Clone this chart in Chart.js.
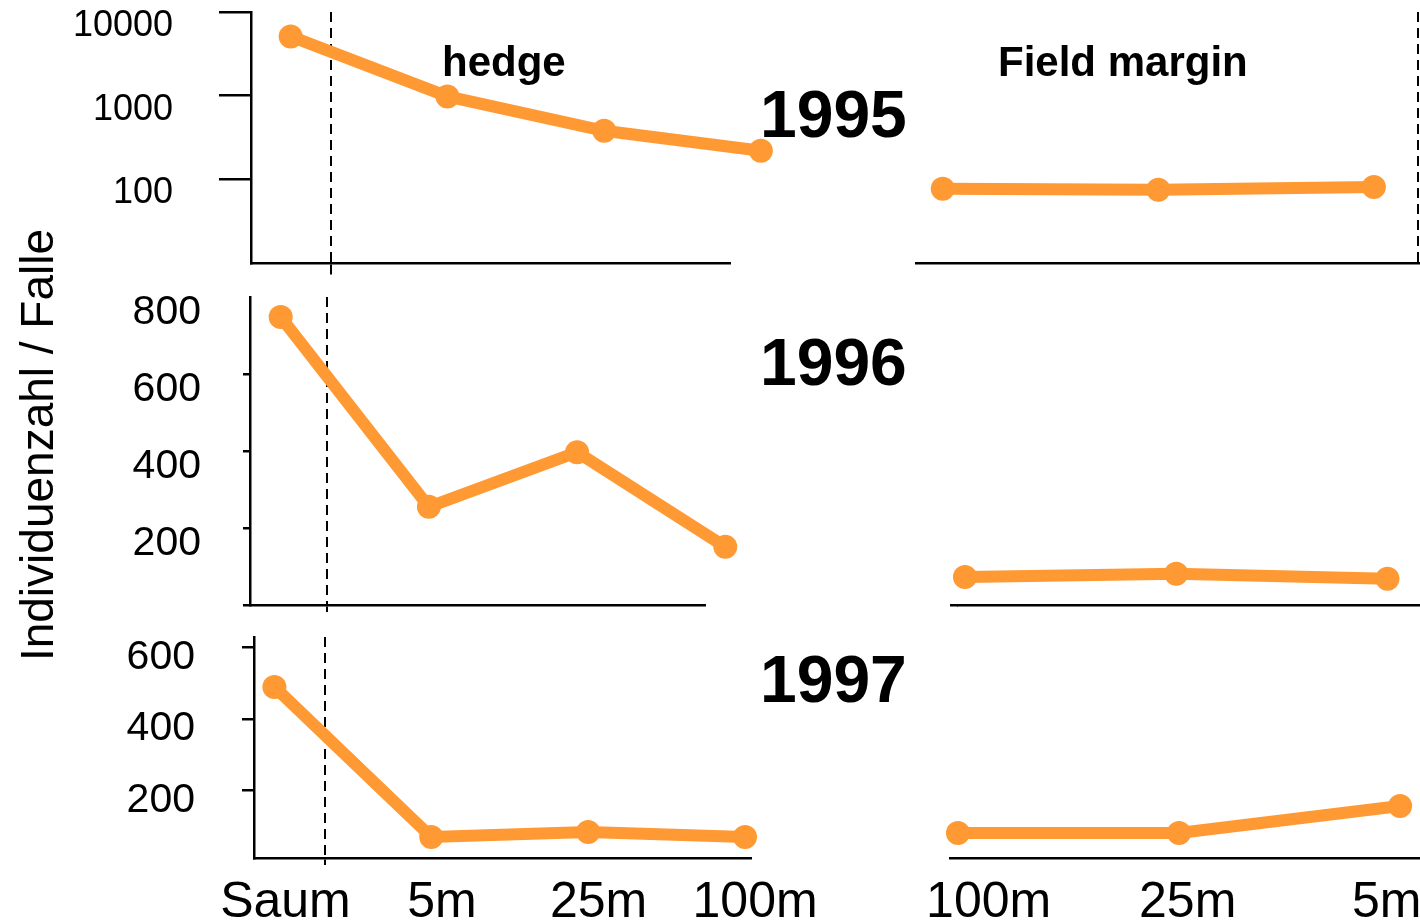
<!DOCTYPE html>
<html>
<head>
<meta charset="utf-8">
<title>Individuenzahl / Falle 1995–1997</title>
<script src="https://cdn.jsdelivr.net/npm/chart.js@4.4.1/dist/chart.umd.min.js"></script>
<style>
  html, body { margin: 0; padding: 0; background: #fff; }
  #stage { position: relative; width: 1420px; height: 924px; overflow: hidden;
           font-family: "Liberation Sans", Arial, sans-serif; color: #000; }
  #stage canvas { position: absolute; left: 0; top: 0; }
  .txt { position: absolute; line-height: 1; white-space: nowrap; }
  .bold { font-weight: bold; }
</style>
</head>
<body>
<div id="stage">
  <canvas id="hedge95" width="1420" height="924"></canvas>
  <canvas id="field95" width="1420" height="924"></canvas>
  <canvas id="hedge96" width="1420" height="924"></canvas>
  <canvas id="field96" width="1420" height="924"></canvas>
  <canvas id="hedge97" width="1420" height="924"></canvas>
  <canvas id="field97" width="1420" height="924"></canvas>

  <div class="txt bold" style="left:442px;top:41px;font-size:42px;">hedge</div>
  <div class="txt bold" style="left:998px;top:41px;font-size:42px;">Field margin</div>
  <div class="txt bold" style="left:760px;top:81px;font-size:66px;">1995</div>
  <div class="txt bold" style="left:760px;top:329px;font-size:66px;">1996</div>
  <div class="txt bold" style="left:760px;top:646px;font-size:66px;">1997</div>
  <div class="txt" style="left:-263px;top:422px;width:600px;height:46px;font-size:46px;text-align:center;transform:rotate(-90deg);">Individuenzahl / Falle</div>
</div>

<script>
// Trap sites: hedge transect (Saum = hedge edge, then distance into the field)
const hedgeSites = ['Saum', '5m', '25m', '100m'];
// Field-margin transect, read from the far field towards the margin
const fieldSites = ['100m', '25m', '5m'];

// Individuals per trap
const hedge1995 = [5100, 980, 380, 220];
const field1995 = [77, 75, 81];
const hedge1996 = [748, 255, 397, 151];
const field1996 = [73, 81, 68];
const hedge1997 = [490, 69, 83, 69];
const field1997 = [80, 80, 156];

// Y tick values per year
const ticks1995 = [100, 1000, 10000];
const ticks1996 = [0, 200, 400, 600, 800];
const ticks1997 = [200, 400, 600];

const ORANGE = '#FF9933';
const FONT = '"Liberation Sans", Arial, sans-serif';
const PAGE_W = 1420, PAGE_H = 924;
const Y_BOX = 200;     // width reserved for left y axes
const X_BOX = 20;      // height of a plain bottom axis
const LABEL_BOX = 66;  // height of the bottom axis carrying site names
const DASH = [10, 6];

const setTicks = vals => scale => { scale.ticks = vals.map(v => ({ value: v })); };
const fixWidth = w => scale => { scale.width = w; scale.paddingTop = 0; scale.paddingBottom = 0; };
const fixHeight = h => scale => { scale.height = h; scale.paddingLeft = 0; scale.paddingRight = 0; };

// The last hedge marker sits past the end of the short x axis line:
// widen the area used for drawing markers while the datasets are drawn.
const overhang = {
  id: 'overhang',
  beforeDatasetsDraw(chart, args, opts) {
    const a = chart.chartArea;
    chart.$plotArea = { left: a.left, right: a.right, top: a.top, bottom: a.bottom, width: a.width, height: a.height };
    a.right += opts.px || 0;
    a.width = a.right - a.left;
  },
  afterDatasetsDraw(chart) {
    if (chart.$plotArea) Object.assign(chart.chartArea, chart.$plotArea);
  }
};

function lineDataset(values) {
  return {
    data: values.map((v, i) => ({ x: i, y: v })),
    borderColor: ORANGE,
    backgroundColor: ORANGE,
    borderWidth: 12,
    pointRadius: 12,
    pointHoverRadius: 12,
    pointBackgroundColor: ORANGE,
    pointBorderWidth: 0,
    tension: 0,
    clip: false
  };
}

// Left value axis with outward tick marks
function valueAxis({ type = 'linear', min, max, ticks, noMark = [], noLabel = [], tickLength, padding, size, offset }) {
  return {
    type, min, max, position: 'left',
    afterBuildTicks: setTicks(ticks),
    afterFit: fixWidth(Y_BOX),
    border: { color: '#000', width: 2.5 },
    grid: {
      drawOnChartArea: false, drawTicks: true, tickLength, lineWidth: 2.5,
      color: ctx => (ctx.tick && noMark.includes(ctx.tick.value)) ? 'rgba(0,0,0,0)' : '#000'
    },
    ticks: {
      color: '#000', font: { family: FONT, size }, padding, labelOffset: offset, autoSkip: false,
      callback: v => noLabel.includes(v) ? '' : String(v)
    }
  };
}

// Hidden value axis for the field-margin panels (same range as the hedge panel)
function hiddenAxis(type, min, max) {
  return { type, min, max, display: false };
}

// Site axis used for placing points; optionally draws the dashed boundary line
function siteAxis({ min, max, display = true, edge = null, tickLength = 0 }) {
  return {
    type: 'linear', min, max, position: 'bottom', display,
    afterBuildTicks: edge === null ? undefined : setTicks([edge]),
    afterFit: display ? fixHeight(X_BOX) : undefined,
    border: { color: '#000', width: 2.5, dash: DASH },
    grid: {
      display: edge !== null, drawOnChartArea: true, drawTicks: tickLength > 0, tickLength,
      lineWidth: 2, color: '#000', tickBorderDash: DASH
    },
    ticks: { display: false }
  };
}

// Bottom axis carrying the site names
function nameAxis({ min, max, sites, edge = null }) {
  const vals = sites.map((_, i) => i);
  if (edge !== null) vals.push(edge);
  vals.sort((a, b) => a - b);
  return {
    type: 'linear', min, max, position: 'bottom',
    afterBuildTicks: setTicks(vals),
    afterFit: fixHeight(LABEL_BOX),
    border: { color: '#000', width: 2.5, dash: DASH },
    grid: {
      display: edge !== null, drawOnChartArea: true, drawTicks: true, tickLength: 7,
      lineWidth: 2, tickBorderDash: DASH,
      color: ctx => (ctx.tick && ctx.tick.value === edge) ? '#000' : 'rgba(0,0,0,0)'
    },
    ticks: {
      color: '#000', font: { family: FONT, size: 50 }, padding: 8,
      autoSkip: false, maxRotation: 0, minRotation: 0,
      callback: v => Number.isInteger(v) ? sites[v] : ''
    }
  };
}

function panel(id, { area, values, scales, left = 0, bottom }) {
  new Chart(document.getElementById(id), {
    type: 'line',
    data: { datasets: [lineDataset(values)] },
    plugins: [overhang],
    options: {
      responsive: false,
      animation: false,
      events: [],
      layout: {
        autoPadding: false,
        padding: {
          left: area.l - left,
          top: area.t,
          right: PAGE_W - area.r,
          bottom: PAGE_H - area.b - bottom
        }
      },
      plugins: { legend: { display: false }, tooltip: { enabled: false }, overhang: { px: 60 } },
      scales
    }
  });
}

// ---- 1995 (logarithmic) ----
panel('hedge95', {
  area: { l: 251, t: 12, r: 730, b: 263 }, values: hedge1995, left: Y_BOX, bottom: X_BOX,
  scales: {
    x: siteAxis({ min: -0.253, max: 2.803, edge: 0.257, tickLength: 12 }),
    y: valueAxis({ type: 'logarithmic', min: 10, max: 10000, ticks: ticks1995,
                   tickLength: 32, padding: 46, size: 36, offset: 14 })
  }
});
panel('field95', {
  area: { l: 916, t: 12, r: 1420, b: 263 }, values: field1995, bottom: X_BOX,
  scales: {
    x: siteAxis({ min: -0.124, max: 2.214, edge: 2.205 }),
    y: hiddenAxis('logarithmic', 10, 10000)
  }
});

// ---- 1996 ----
panel('hedge96', {
  area: { l: 250, t: 297, r: 705, b: 605 }, values: hedge1996, left: Y_BOX, bottom: X_BOX,
  scales: {
    x: siteAxis({ min: -0.207, max: 2.863, edge: 0.312, tickLength: 7 }),
    y: valueAxis({ min: 0, max: 800, ticks: ticks1996, noMark: [800], noLabel: [0],
                   tickLength: 7, padding: 42, size: 41, offset: 16 })
  }
});
panel('field96', {
  area: { l: 958, t: 297, r: 1420, b: 605 }, values: field1996, left: 8, bottom: X_BOX,
  scales: {
    x: siteAxis({ min: -0.033, max: 2.154 }),
    y: {
      type: 'linear', min: 0, max: 800, position: 'left',
      afterBuildTicks: setTicks([0]),
      afterFit: fixWidth(8),
      border: { display: false },
      grid: { drawOnChartArea: false, drawTicks: true, tickLength: 8, lineWidth: 2.5, color: '#000' },
      ticks: { display: false }
    }
  }
});

// ---- 1997 ----
panel('hedge97', {
  area: { l: 254, t: 637, r: 751, b: 858 }, values: hedge1997, left: Y_BOX, bottom: LABEL_BOX,
  scales: {
    x: siteAxis({ min: -0.130, max: 3.038, display: false }),
    names: nameAxis({ min: -0.201, max: 2.974, sites: hedgeSites, edge: 0.252 }),
    y: valueAxis({ min: 10, max: 630, ticks: ticks1997,
                   tickLength: 12, padding: 47, size: 41, offset: 10 })
  }
});
panel('field97', {
  area: { l: 950, t: 637, r: 1420, b: 858 }, values: field1997, bottom: LABEL_BOX,
  scales: {
    x: siteAxis({ min: -0.036, max: 2.09, display: false }),
    names: nameAxis({ min: -0.194, max: 2.167, sites: fieldSites }),
    y: hiddenAxis('linear', 10, 630)
  }
});
</script>
</body>
</html>
